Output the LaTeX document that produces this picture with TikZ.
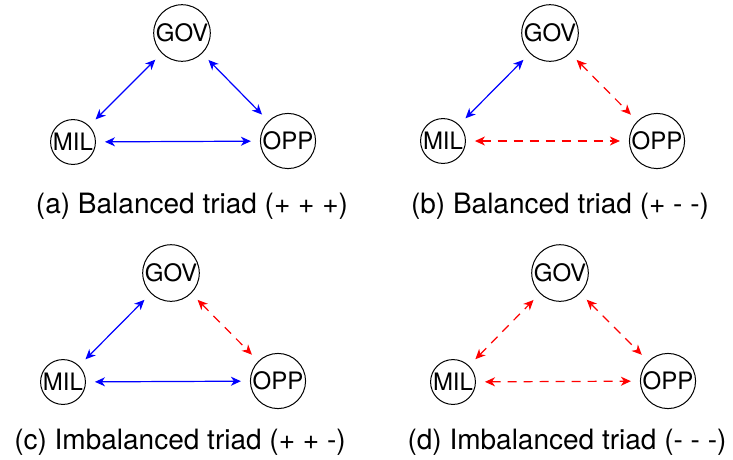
\documentclass[tikz,border=0pt]{standalone}
\usepackage{fontspec}
\setmainfont{TeX Gyre Heros}
\usetikzlibrary{arrows.meta}

\begin{document}
\begin{tikzpicture}[x=1pt, y=-1pt,
    actor/.style={circle, draw, line width=1pt, inner sep=0.5pt, font=\fontsize{24}{28}\selectfont},
    caption/.style={anchor=base, font=\fontsize{28}{32}\selectfont},
    tie/.style={line width=1.2pt, {Stealth[length=10pt, width=9pt, inset=3pt]}-{Stealth[length=10pt, width=9pt, inset=3pt]}, shorten <=9pt, shorten >=9pt},
    postie/.style={tie, blue},
    negtie/.style={tie, red, dash pattern=on 9pt off 7pt}]

        % page size of the reference
        \useasboundingbox (0,0) rectangle (733,459);

        % (a) all positive
        \node[actor] (gova) at (182,33) {GOV};
        \node[actor] (mila) at (73,142) {MIL};
        \node[actor] (oppa) at (288,141) {OPP};
        \draw[postie] (mila) -- (gova);
        \draw[postie] (gova) -- (oppa);
        \draw[postie] (mila) -- (oppa);
        \node[caption] (capa) at (192,213) {(a) Balanced triad (+ + +)};

        % (b) one positive, two negative
        \node[actor] (govb) at (550,33) {GOV};
        \node[actor] (milb) at (443,141) {MIL};
        \node[actor] (oppb) at (657,141) {OPP};
        \draw[postie] (milb) -- (govb);
        \draw[negtie] (govb) -- (oppb);
        \draw[negtie] (milb) -- (oppb);
        \node[caption] (capb) at (560,213) {(b) Balanced triad (+ - -)};

        % (c) two positive, one negative
        \node[actor] (govc) at (171,273) {GOV};
        \node[actor] (milc) at (63,382) {MIL};
        \node[actor] (oppc) at (278,381) {OPP};
        \draw[postie] (milc) -- (govc);
        \draw[negtie] (govc) -- (oppc);
        \draw[postie] (milc) -- (oppc);
        \node[caption] (capc) at (180,449) {(c) Imbalanced triad (+ + -)};

        % (d) all negative
        \node[actor] (govd) at (560,273) {GOV};
        \node[actor] (mild) at (453,382) {MIL};
        \node[actor] (oppd) at (668,381) {OPP};
        \draw[negtie] (mild) -- (govd);
        \draw[negtie] (govd) -- (oppd);
        \draw[negtie] (mild) -- (oppd);
        \node[caption] (capd) at (567,449) {(d) Imbalanced triad (- - -)};

\end{tikzpicture}
\end{document}
